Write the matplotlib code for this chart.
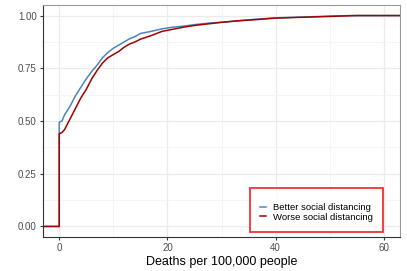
import matplotlib
matplotlib.use('Agg')
import matplotlib.pyplot as plt
from matplotlib.ticker import MultipleLocator, FormatStrFormatter
import numpy as np

plt.rcParams['font.family'] = ['Liberation Sans', 'DejaVu Sans']

BLUE = '#4A86BE'; RED = '#A30000'; GRID = '#EBEBEB'; TXT = '#4D4D4D'

# cumulative share of counties vs deaths per 100k
better_x = [0, 0.5, 1, 2, 3, 4, 5, 6, 7, 8, 9, 10, 11, 12, 13, 14, 15, 17, 19,
            21, 23, 25, 28, 30, 33, 36, 40, 45, 50, 54]
better_y = [0.494, 0.50, 0.53, 0.57, 0.62, 0.66, 0.70, 0.735, 0.765, 0.80, 0.825,
            0.845, 0.86, 0.875, 0.89, 0.90, 0.915, 0.925, 0.937, 0.945, 0.95, 0.957,
            0.965, 0.968, 0.975, 0.982, 0.989, 0.993, 0.997, 1.0]
worse_x = [0, 0.5, 1, 2, 3, 4, 5, 6, 7, 8, 9, 10, 11, 12, 13, 14, 15, 17, 19,
           21, 23, 25, 28, 30, 33, 36, 40, 45, 50, 55]
worse_y = [0.44, 0.445, 0.46, 0.51, 0.56, 0.61, 0.65, 0.70, 0.74, 0.775, 0.80,
           0.815, 0.83, 0.85, 0.865, 0.875, 0.888, 0.905, 0.925, 0.935, 0.945, 0.953,
           0.962, 0.968, 0.975, 0.98, 0.988, 0.992, 0.996, 1.0]
labels = ['Better social distancing', 'Worse social distancing']

XMIN, XMAX = -3.0, 63.0

fig = plt.figure(figsize=(4.07, 2.71), dpi=100, facecolor='white')
ax = fig.add_axes([0.1057, 0.1255, 0.8773, 0.856])

for xs, ys, col, lab in [(better_x, better_y, BLUE, labels[0]),
                         (worse_x, worse_y, RED, labels[1])]:
    # flat at 0 before the first value, vertical jump, then the ECDF
    x = np.r_[XMIN, xs[0], xs, XMAX]
    y = np.r_[0, 0, ys, ys[-1]]
    ax.plot(x, y, color=col, lw=1.1, label=lab)

ax.set_xlim(XMIN, XMAX)
ax.set_ylim(-0.05, 1.05)
ax.xaxis.set_major_locator(MultipleLocator(20))
ax.xaxis.set_minor_locator(MultipleLocator(10))
ax.yaxis.set_major_locator(MultipleLocator(0.25))
ax.yaxis.set_minor_locator(MultipleLocator(0.125))
ax.yaxis.set_major_formatter(FormatStrFormatter('%.2f'))
ax.grid(which='major', color=GRID, lw=0.9)
ax.grid(which='minor', color='#F4F4F4', lw=0.6)
ax.set_axisbelow(True)
ax.tick_params(which='major', length=2.5, width=0.8, color='#333333',
               labelsize=7, labelcolor=TXT, pad=2)
ax.tick_params(which='minor', length=0)
for s in ['top', 'right']:
    ax.spines[s].set_color('#999999')
for s in ['left', 'bottom']:
    ax.spines[s].set_color('#333333')
ax.set_xlabel('Deaths per 100,000 people', fontsize=9, labelpad=2)

leg = ax.legend(loc='lower right', bbox_to_anchor=(0.952, 0.021), fontsize=6.8,
                title=' ', title_fontsize=2,
                handlelength=0.6, handletextpad=0.7, labelspacing=0.05,
                borderpad=1.1, fancybox=False, frameon=True,
                borderaxespad=0)
leg.get_frame().set_edgecolor('#EE0000')
leg.get_frame().set_linewidth(1.3)

fig.savefig('out.png', dpi=100, facecolor='white')
